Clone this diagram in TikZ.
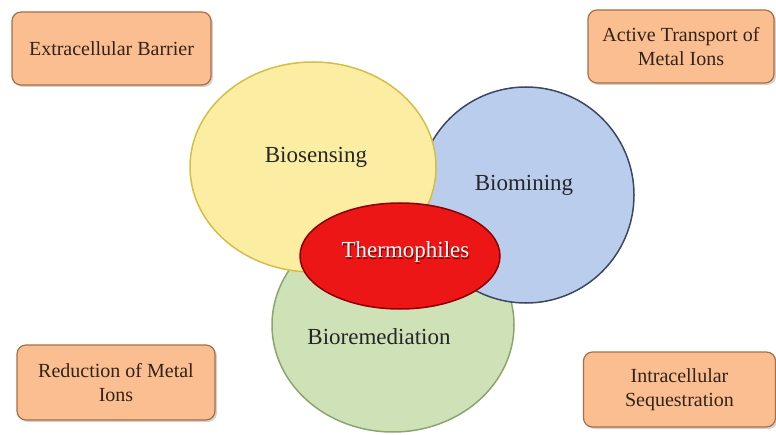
\documentclass[tikz,border=0pt]{standalone}
\usepackage{fontspec}
\setmainfont{Liberation Serif}
\usetikzlibrary{shapes.geometric,shadows}
\definecolor{peach}{RGB}{250,190,145}
\definecolor{peachline}{RGB}{170,110,70}
\definecolor{boxtext}{RGB}{50,35,25}
\definecolor{sunfill}{RGB}{251,238,163}
\definecolor{sunline}{RGB}{214,190,70}
\definecolor{skyfill}{RGB}{186,205,236}
\definecolor{skyline}{RGB}{60,72,95}
\definecolor{leaffill}{RGB}{207,226,183}
\definecolor{leafline}{RGB}{140,165,110}
\definecolor{hotfill}{RGB}{236,22,22}
\definecolor{hotline}{RGB}{140,0,0}
\begin{document}
\begin{tikzpicture}[x=1pt,y=1pt,
  rolebox/.style={draw=peachline,line width=1.2pt,fill=peach,rounded corners=9pt,
    align=center,text=boxtext,font=\fontsize{20}{24}\selectfont,
    drop shadow={opacity=.35,shadow xshift=2pt,shadow yshift=-2pt}},
  blob/.style={ellipse,draw,line width=1.5pt,inner sep=0pt},
  blobtext/.style={font=\fontsize{23}{27}\selectfont,text=black!85}]
\useasboundingbox (0,0) rectangle (776,434);

\node [rolebox,minimum width=199,minimum height=73] (barrier) at (111.5,385.5) {Extracellular Barrier};
\node [rolebox,minimum width=186,minimum height=73] (transport) at (681,387.5) {Active Transport of\\Metal Ions};
\node [rolebox,minimum width=198,minimum height=75] (reduction) at (116,51.5) {Reduction of Metal\\Ions};
\node [rolebox,minimum width=192,minimum height=75] (sequestration) at (679.5,44.5) {Intracellular\\Sequestration};

\node [blob,draw=leafline,fill=leaffill,minimum width=242,minimum height=214] (remed) at (393,109) {};
\node [blob,draw=skyline,fill=skyfill,minimum width=216,minimum height=216] (mining) at (526,239) {};
\node [blob,draw=sunline,fill=sunfill,minimum width=246,minimum height=210] (sensing) at (313,267) {};
\node [blob,draw=hotline,fill=hotfill,minimum width=200,minimum height=106] (thermo) at (400,178) {};

\node [blobtext] (sensinglabel) at (316,277) {Biosensing};
\node [blobtext] (mininglabel) at (524,249) {Biomining};
\node [blobtext] (remedlabel) at (379,97) {Bioremediation};
\node [blobtext,text=hotline] at (406.5,180.5) {Thermophiles};
\node [blobtext,text=white] (thermolabel) at (405.5,182) {Thermophiles};
\end{tikzpicture}
\end{document}
